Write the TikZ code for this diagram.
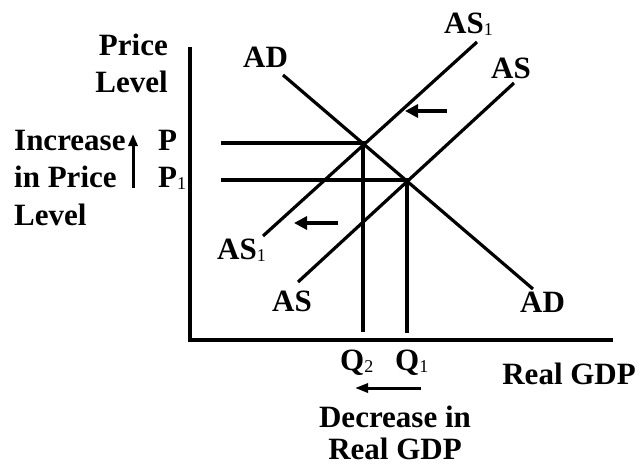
\documentclass[tikz,border=0pt]{standalone}
\usepackage{fontspec}
\setmainfont{Liberation Serif}
\usetikzlibrary{arrows.meta}
\newcommand{\sbs}[1]{\raisebox{-2.5pt}{\fontsize{18}{18}\selectfont\mdseries #1}}
\begin{document}
\begin{tikzpicture}[x=1pt,y=-1pt,
  lbl/.style={font=\fontsize{31}{35}\selectfont\bfseries, inner sep=0pt},
  ln/.style={line width=3.2pt},
  arr/.style={line width=3.2pt,-{Triangle[length=13pt,width=13pt]}},
  sarr/.style={line width=3pt,-{Triangle[length=13pt,width=9pt]}}]
\useasboundingbox (0,0) rectangle (640,467);
% axes
\coordinate (ytop) at (190,47);
\coordinate (org) at (190,340);
\coordinate (xend) at (613,340);
\draw[ln] (ytop) -- (org) -- (xend);
% curves
\coordinate (ADt) at (283,75);
\coordinate (ADb) at (533,289);
\coordinate (AS1t) at (477,42);
\coordinate (AS1b) at (263,236);
\coordinate (ASt) at (514,83);
\coordinate (ASb) at (298,282);
\draw[ln] (ADt) -- (ADb);
\draw[ln] (AS1b) -- (AS1t);
\draw[ln] (ASb) -- (ASt);
% equilibria
\coordinate (E2) at (363,143);
\coordinate (E1) at (407,180);
\coordinate (Pl) at (221,143);
\coordinate (P1l) at (221,180);
\coordinate (Q2b) at (363,332);
\coordinate (Q1b) at (407,333);
\draw[ln] (Pl) -- (E2) -- (Q2b);
\draw[ln] (P1l) -- (E1) -- (Q1b);
% shift arrows
\coordinate (a1s) at (447,111);
\coordinate (a1e) at (405,111);
\coordinate (a2s) at (338,223);
\coordinate (a2e) at (294,223);
\draw[arr] (a1s) -- (a1e);
\draw[arr] (a2s) -- (a2e);
\coordinate (a3s) at (421,388);
\coordinate (a3e) at (355,388);
\draw[sarr] (a3s) -- (a3e);
\coordinate (a4s) at (133,188);
\coordinate (a4e) at (133,134);
\draw[line width=3pt,-{Triangle[length=12pt,width=9pt]}] (a4s) -- (a4e);
% labels
\node[lbl,anchor=base east] (pr) at (168,55) {Price};
\node[lbl,anchor=base east] (lv) at (168,92) {Level};
\node[lbl,anchor=base west] (inc) at (14,150) {Increase};
\node[lbl,anchor=base west] (inp) at (14,187) {in Price};
\node[lbl,anchor=base west] (lv2) at (14,225) {Level};
\node[lbl,anchor=base west] (P) at (158,150) {P};
\node[lbl,anchor=base west] (P1) at (158,187) {P\sbs{1}};
\node[lbl,anchor=base west] (ADtl) at (243,67) {AD};
\node[lbl,anchor=base west] (AS1tl) at (444,33) {AS\sbs{1}};
\node[lbl,anchor=base west] (AStl) at (491,78) {AS};
\node[lbl,anchor=base west] (AS1bl) at (217,259) {AS\sbs{1}};
\node[lbl,anchor=base west] (ASbl) at (272,311) {AS};
\node[lbl,anchor=base west] (ADbl) at (520,312) {AD};
\node[lbl,anchor=base west] (Q2) at (340,370) {Q\sbs{2}};
\node[lbl,anchor=base west] (Q1) at (395,370) {Q\sbs{1}};
\node[lbl,anchor=base east] (rg) at (636,384) {Real GDP};
\node[lbl,anchor=base] (dec) at (395,427) {Decrease in};
\node[lbl,anchor=base] (rg2) at (395,459) {Real GDP};
\end{tikzpicture}
\end{document}
